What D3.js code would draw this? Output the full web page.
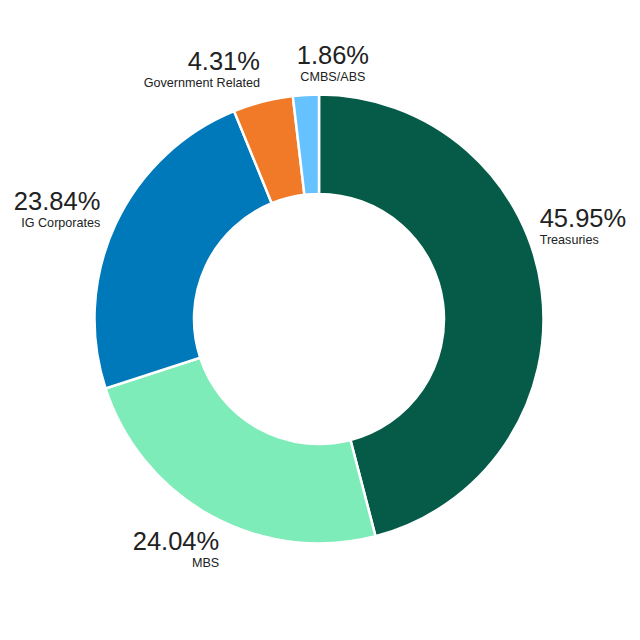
<!DOCTYPE html>
<html>
<head>
<meta charset="utf-8">
<script src="https://d3js.org/d3.v7.min.js"></script>
<style>
  body { margin: 0; background: white; }
  text { font-family: "Liberation Sans", Arial, sans-serif; fill: #222; }
</style>
</head>
<body>
<div id="chart"></div>
<script>
  // slice data, clockwise from 12 o'clock
  var categories = ["Treasuries", "MBS", "IG Corporates", "Government Related", "CMBS/ABS"];
  var shares = [45.95, 24.04, 23.84, 4.31, 1.86];
  var colors = ["#065a48", "#7eecb9", "#0079ba", "#f07a28", "#66c2ff"];

  var width = 640, height = 640;
  var cx = 319, cy = 319;
  var outerR = 224.5, innerR = 125;

  var svg = d3.select("#chart")
    .append("svg")
      .attr("width", width)
      .attr("height", height);

  var g = svg.append("g")
    .attr("transform", "translate(" + cx + "," + cy + ")");

  var data = categories.map(function(c, i) { return { name: c, value: shares[i], color: colors[i] }; });

  var pie = d3.pie()
    .sort(null)
    .value(function(d) { return d.value; });

  var arc = d3.arc()
    .innerRadius(innerR)
    .outerRadius(outerR);

  var slices = pie(data);

  g.selectAll("path")
    .data(slices)
    .enter()
    .append("path")
      .attr("d", arc)
      .attr("fill", function(d) { return d.data.color; })
      .attr("stroke", "white")
      .attr("stroke-width", 2.5);

  // label placement: nudge from the outer edge point at each slice's mid angle
  var edge = d3.arc().innerRadius(outerR).outerRadius(outerR);
  var nudges = [
    { dx: -2,   dy: -64, anchor: "start" },   // Treasuries
    { dx: 8,    dy: 34,  anchor: "end" },     // MBS
    { dx: -15,  dy: -15, anchor: "end" },     // IG Corporates
    { dx: -3,   dy: -32, anchor: "end" },     // Government Related
    { dx: 27,   dy: -31, anchor: "middle" }   // CMBS/ABS
  ];

  var labels = g.selectAll("g.label")
    .data(slices)
    .enter()
    .append("g")
      .attr("class", "label")
      .attr("transform", function(d, i) {
        var p = edge.centroid(d);
        return "translate(" + (p[0] + nudges[i].dx) + "," + (p[1] + nudges[i].dy) + ")";
      });

  labels.append("text")
    .attr("text-anchor", function(d, i) { return nudges[i].anchor; })
    .style("font-size", "25.5px")
    .text(function(d) { return d3.format(".2f")(d.data.value) + "%"; });

  labels.append("text")
    .attr("text-anchor", function(d, i) { return nudges[i].anchor; })
    .attr("y", 17.5)
    .style("font-size", "12.6px")
    .text(function(d) { return d.data.name; });
</script>
</body>
</html>
